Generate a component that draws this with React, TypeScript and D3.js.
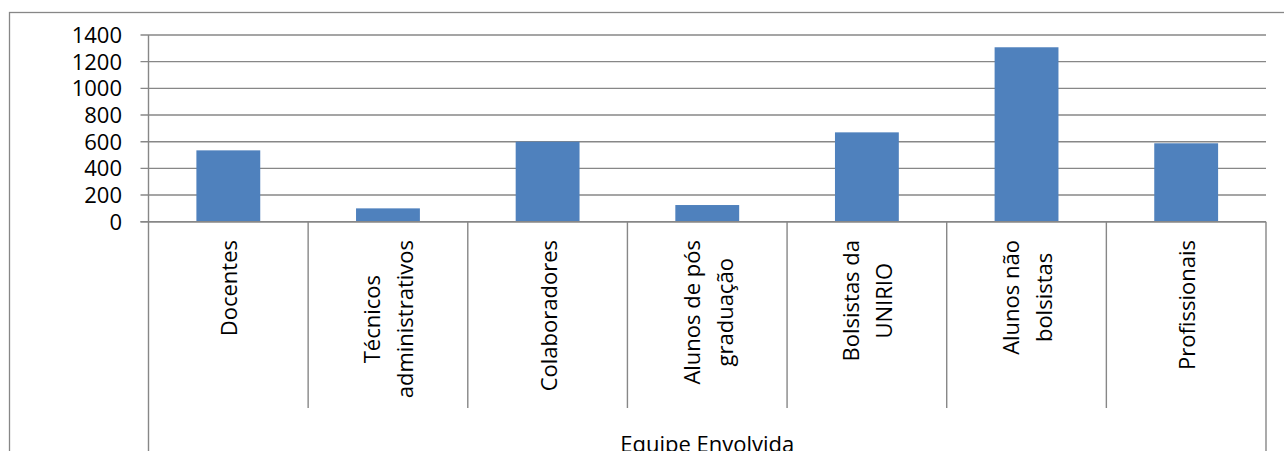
import React, { useEffect, useRef } from "react";
import * as d3 from "d3";

const categories: string[][] = [
  ["Docentes"],
  ["Técnicos", "administrativos"],
  ["Colaboradores"],
  ["Alunos de pós", "graduação"],
  ["Bolsistas da", "UNIRIO"],
  ["Alunos não", "bolsistas"],
  ["Profissionais"],
];
const values: number[] = [535, 100, 600, 125, 670, 1308, 588];
const yTicks: number[] = [0, 200, 400, 600, 800, 1000, 1200, 1400];
const axisTitle = "Equipe Envolvida";

const W = 1284;
const H = 451;
const FONT = "'Open Sans', sans-serif";
const FS = 22;
const GRID = "#878787";
const BAR = "#4F81BD";

export default function App() {
  const ref = useRef<SVGSVGElement | null>(null);

  useEffect(() => {
    document.body.style.margin = "0";
    const svg = d3.select(ref.current);
    svg.selectAll("*").remove();

    const left = 148.5;
    const right = 1266;
    const top = 35;
    const bottom = 221.7;
    const catBottom = 408;

    const x = d3
      .scaleBand<number>()
      .domain(categories.map((_, i) => i))
      .range([left, right])
      .paddingInner(0)
      .paddingOuter(0);
    const y = d3.scaleLinear().domain([0, 1400]).range([bottom, top]);
    const bw = x.bandwidth();

    // outer frame
    svg
      .append("rect")
      .attr("x", 9.5)
      .attr("y", 12.5)
      .attr("width", 1300)
      .attr("height", 500)
      .attr("fill", "white")
      .attr("stroke", GRID)
      .attr("stroke-width", 1.3);

    // gridlines + y tick marks
    svg
      .append("g")
      .selectAll("line")
      .data(yTicks)
      .join("line")
      .attr("x1", left - 8)
      .attr("x2", right)
      .attr("y1", (d) => y(d))
      .attr("y2", (d) => y(d))
      .attr("stroke", GRID)
      .attr("stroke-width", 1.4);

    // y tick labels
    svg
      .append("g")
      .selectAll("text")
      .data(yTicks)
      .join("text")
      .attr("x", 122)
      .attr("y", (d) => y(d))
      .attr("dy", "0.36em")
      .attr("text-anchor", "end")
      .attr("font-family", FONT)
      .attr("font-size", FS)
      .attr("fill", "#000")
      .text((d) => String(d));

    // bars
    svg
      .append("g")
      .selectAll("rect")
      .data(values)
      .join("rect")
      .attr("x", (_, i) => (x(i) as number) + bw * 0.3)
      .attr("width", bw * 0.4)
      .attr("y", (d) => y(d))
      .attr("height", (d) => y(0) - y(d))
      .attr("fill", BAR);

    // y axis line (continues to bottom as outer category separator)
    svg
      .append("line")
      .attr("x1", left)
      .attr("x2", left)
      .attr("y1", top)
      .attr("y2", H + 5)
      .attr("stroke", GRID)
      .attr("stroke-width", 1.4);
    // right outer separator
    svg
      .append("line")
      .attr("x1", right)
      .attr("x2", right)
      .attr("y1", bottom)
      .attr("y2", H + 5)
      .attr("stroke", GRID)
      .attr("stroke-width", 1.4);
    // category dividers
    svg
      .append("g")
      .selectAll("line")
      .data(categories.slice(1).map((_, i) => i + 1))
      .join("line")
      .attr("x1", (i) => x(i) as number)
      .attr("x2", (i) => x(i) as number)
      .attr("y1", bottom)
      .attr("y2", catBottom)
      .attr("stroke", GRID)
      .attr("stroke-width", 1.4);
    // x axis line
    svg
      .append("line")
      .attr("x1", left - 8)
      .attr("x2", right)
      .attr("y1", bottom)
      .attr("y2", bottom)
      .attr("stroke", GRID)
      .attr("stroke-width", 1.4);

    // category labels (rotated)
    const labelTop = 240;
    const lineGap = 33;
    categories.forEach((lines, i) => {
      const cx = (x(i) as number) + bw / 2;
      const g = svg.append("g");
      const texts = lines.map((ln) =>
        g
          .append("text")
          .attr("font-family", FONT)
          .attr("font-size", FS)
          .attr("fill", "#000")
          .attr("text-anchor", "middle")
          .text(ln)
      );
      const maxLen = d3.max(texts, (t) => (t.node() as SVGTextElement).getComputedTextLength()) || 0;
      const cy = labelTop + maxLen / 2;
      const n = lines.length;
      texts.forEach((t, j) => {
        const bx = cx + 9 + (j - (n - 1) / 2) * lineGap;
        t.attr("transform", `translate(${bx},${cy}) rotate(-90)`);
      });
    });

    // axis title
    svg
      .append("text")
      .attr("x", (left + right) / 2)
      .attr("y", 452)
      .attr("text-anchor", "middle")
      .attr("font-family", FONT)
      .attr("font-size", FS)
      .attr("fill", "#000")
      .text(axisTitle);
  }, []);

  return (
    <svg
      ref={ref}
      width={W}
      height={H}
      style={{ position: "absolute", left: 0, top: 0, background: "white" }}
    />
  );
}
